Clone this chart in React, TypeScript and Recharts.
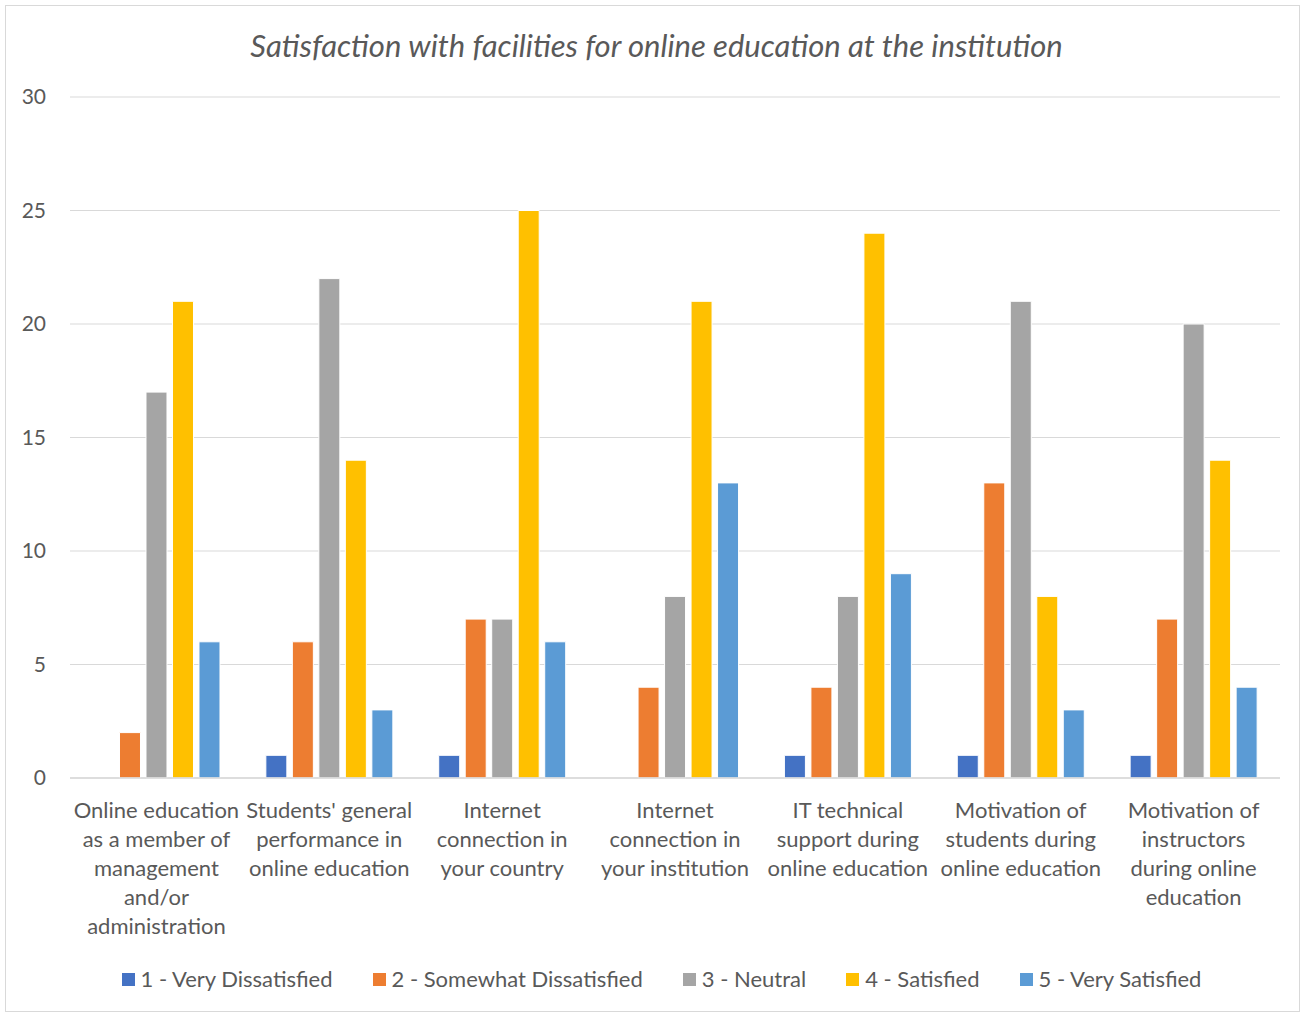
import { BarChart, Bar, XAxis, YAxis, CartesianGrid, Legend } from "recharts";

const categories = [
  "Online education\nas a member of\nmanagement\nand/or\nadministration",
  "Students' general\nperformance in\nonline education",
  "Internet\nconnection in\nyour country",
  "Internet\nconnection in\nyour institution",
  "IT technical\nsupport during\nonline education",
  "Motivation of\nstudents during\nonline education",
  "Motivation of\ninstructors\nduring online\neducation",
];

const veryDissatisfied = [0, 1, 1, 0, 1, 1, 1];
const somewhatDissatisfied = [2, 6, 7, 4, 4, 13, 7];
const neutral = [17, 22, 7, 8, 8, 21, 20];
const satisfied = [21, 14, 25, 21, 24, 8, 14];
const verySatisfied = [6, 3, 6, 13, 9, 3, 4];

const yTicks = [0, 5, 10, 15, 20, 25, 30];

const series = [
  { key: "s1", name: "1 - Very Dissatisfied", color: "#4472C4", values: veryDissatisfied },
  { key: "s2", name: "2 - Somewhat Dissatisfied", color: "#ED7D31", values: somewhatDissatisfied },
  { key: "s3", name: "3 - Neutral", color: "#A5A5A5", values: neutral },
  { key: "s4", name: "4 - Satisfied", color: "#FFC000", values: satisfied },
  { key: "s5", name: "5 - Very Satisfied", color: "#5B9BD5", values: verySatisfied },
];

const data = categories.map((category, i) => {
  const row: Record<string, string | number> = { category };
  series.forEach((s) => (row[s.key] = s.values[i]));
  return row;
});

const FONT = "Lato, 'Open Sans', sans-serif";
const TEXT = "#595959";

function CategoryTick({ x, y, payload }: any) {
  const lines = String(payload.value).split("\n");
  return (
    <text x={x} y={y} textAnchor="middle" fill={TEXT} fontSize={22} fontFamily={FONT}>
      {lines.map((line, i) => (
        <tspan key={i} x={x} dy={i === 0 ? 40 : 29}>
          {line}
        </tspan>
      ))}
    </text>
  );
}

function LegendContent() {
  return (
    <div
      style={{
        display: "flex",
        justifyContent: "center",
        alignItems: "center",
        gap: 40,
        fontFamily: FONT,
        fontSize: 22,
        color: TEXT,
        lineHeight: "28px",
        paddingLeft: 18,
      }}
    >
      {series.map((s) => (
        <div key={s.key} style={{ display: "flex", alignItems: "center" }}>
          <span style={{ width: 13, height: 13, background: s.color, marginRight: 6, display: "inline-block" }} />
          <span>{s.name}</span>
        </div>
      ))}
    </div>
  );
}

export default function App() {
  return (
    <div
      style={{
        position: "absolute",
        left: 5,
        top: 5,
        width: 1293,
        height: 1005,
        border: "1px solid #D9D9D9",
        background: "#fff",
        fontFamily: FONT,
      }}
    >
      <div
        style={{
          position: "absolute",
          top: 21,
          left: 0,
          width: 1293,
          paddingLeft: 8,
          boxSizing: "border-box",
          textAlign: "center",
          fontStyle: "italic",
          fontSize: 31,
          color: TEXT,
          lineHeight: "36px",
        }}
      >
        Satisfaction with facilities for online education at the institution
      </div>
      <BarChart
        width={1293}
        height={1005}
        data={data}
        margin={{ top: 91, right: 19, left: 14, bottom: 33 }}
        barCategoryGap="13.3%"
        barGap={5.5}
      >
        <CartesianGrid vertical={false} stroke="#D9D9D9" strokeWidth={1.2} />
        <XAxis
          dataKey="category"
          interval={0}
          height={200}
          tickLine={false}
          tickSize={0}
          tickMargin={0}
          stroke="#D9D9D9"
          strokeWidth={1.5}
          tick={<CategoryTick />}
        />
        <YAxis
          domain={[0, 30]}
          ticks={yTicks}
          width={50}
          axisLine={false}
          tickLine={false}
          tickSize={0}
          tickMargin={24}
          tick={{ fill: TEXT, fontSize: 21, fontFamily: FONT }}
        />
        <Legend
          layout="horizontal"
          verticalAlign="middle"
          align="center"
          content={<LegendContent />}
          wrapperStyle={{ top: 959, left: 0, width: 1293, height: 28 }}
        />
        {series.map((s) => (
          <Bar
            key={s.key}
            dataKey={s.key}
            name={s.name}
            fill={s.color}
            stroke="#ffffff"
            strokeWidth={1}
            isAnimationActive={false}
          />
        ))}
      </BarChart>
    </div>
  );
}
